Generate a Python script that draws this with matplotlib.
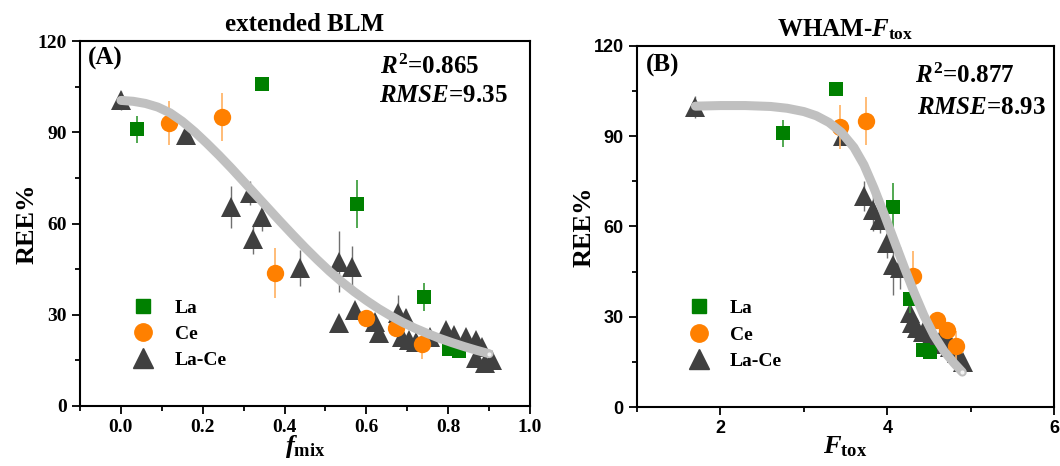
import matplotlib
matplotlib.use("Agg")
import matplotlib.pyplot as plt
from matplotlib.lines import Line2D

plt.rcParams["font.family"] = "Liberation Serif"
plt.rcParams["font.weight"] = "bold"
plt.rcParams["axes.titleweight"] = "bold"
plt.rcParams["axes.labelweight"] = "bold"
plt.rcParams["mathtext.fontset"] = "custom"
plt.rcParams["mathtext.rm"] = "Liberation Serif:bold"
plt.rcParams["mathtext.bf"] = "Liberation Serif:bold"
plt.rcParams["mathtext.it"] = "Liberation Serif:bold:italic"

# ---- panel A: extended BLM ----
la_f = [0.04, 0.346, 0.578, 0.741, 0.802, 0.827]
la_ree = [91, 105.8, 66.4, 35.8, 18.8, 18.2]
la_err = [4.5, 0.8, 8, 4.5, 1.5, 1.5]

ce_f = [0.117, 0.246, 0.376, 0.60, 0.673, 0.737]
ce_ree = [93, 95, 43.7, 28.9, 25.6, 20.3]
ce_err = [7.3, 8, 8.2, 1.5, 1.5, 5]

lace_f = [0.0, 0.16, 0.27, 0.315, 0.322, 0.344, 0.437, 0.534, 0.566, 0.534,
          0.571, 0.62, 0.632, 0.678, 0.697, 0.688, 0.705, 0.722, 0.755, 0.795,
          0.815, 0.843, 0.867, 0.883, 0.867, 0.907, 0.89]
lace_ree = [100.5, 89, 65.4, 70, 55, 62, 45.3, 47.4, 45.7, 27.3,
            31.6, 27.6, 24, 30.5, 28.9, 22.7, 21.7, 21, 22.7, 25,
            23.3, 22.7, 21.7, 19.4, 15.8, 15.1, 14.1]
lace_err = [3, 3, 7, 4, 5, 4.5, 6, 10, 7, 1.5,
            1.5, 1.5, 1.5, 6, 3, 2, 2, 2, 2, 2,
            1.5, 2.5, 2, 1.5, 1.5, 1.5, 1.5]

fit_f = [0, 0.03, 0.06, 0.09, 0.12, 0.15, 0.18, 0.21, 0.24, 0.27, 0.30,
         0.33, 0.36, 0.39, 0.42, 0.45, 0.48, 0.51, 0.54, 0.57, 0.60,
         0.63, 0.66, 0.69, 0.72, 0.75, 0.78, 0.81, 0.84, 0.87, 0.9]
fit_f_ree = [100.5, 100.2, 99.5, 98.3, 96.4, 93.6, 90.2, 86.4, 82.4, 78.2, 73.8,
             69.4, 65.0, 60.6, 56.3, 52.1, 48.1, 44.3, 40.8, 37.6, 34.7,
             32.0, 29.6, 27.4, 25.5, 23.8, 22.2, 20.8, 19.5, 18.3, 17.2]

# ---- panel B: WHAM-Ftox ----
la_F = [2.75, 3.39, 4.07, 4.27, 4.43, 4.51]
ce_F = [3.43, 3.75, 4.31, 4.60, 4.72, 4.83]

lace_F = [1.7, 3.47, 3.72, 3.83, 3.91, 4.0, 4.07, 4.15, 4.27, 4.36,
          4.43, 4.51, 4.63, 4.75, 4.84, 4.91, 4.3, 4.55, 4.7]
lace_F_ree = [99.7, 90, 70, 65.5, 62, 54.5, 47.2, 46.2, 31.2, 26.3,
              25, 23, 22.3, 20, 17.9, 15, 28, 21, 24]
lace_F_err = [3.6, 3, 5, 7, 4, 5, 10, 7, 3, 3,
              2, 2, 2, 2, 2, 1.5, 2, 2, 2]

fit_F = [1.7, 2.0, 2.3, 2.6, 2.8, 3.0, 3.15, 3.3, 3.45, 3.6, 3.72,
         3.84, 3.96, 4.08, 4.2, 4.32, 4.44, 4.56, 4.68, 4.8, 4.9]
fit_F_ree = [100, 100.2, 100.2, 99.9, 99.3, 98.2, 96.8, 94.6, 91.3, 86.3, 80.5,
             72.8, 64.3, 55.5, 46.7, 38.2, 30.4, 23.8, 18.6, 14.6, 11.6]

green = "#008000"
orange = "#ff8000"
dark = "#404040"

fig = plt.figure(figsize=(10.6, 4.66), dpi=100)
axA = fig.add_axes([0.0755, 0.1288, 0.4245, 0.783])
axB = fig.add_axes([0.601, 0.1266, 0.3934, 0.7747])


def draw_panel(ax, xla, xce, xlace, ylace, elace, xfit, yfit):
    ax.errorbar(xlace, ylace, yerr=elace, fmt="^", color=dark, ms=14, mew=0,
                ecolor="#707070", elinewidth=1, capsize=5, capthick=1, zorder=2)
    ax.errorbar(xce, ce_ree, yerr=ce_err, fmt="o", color=orange, ms=12.5, mew=0,
                ecolor="#ffb060", elinewidth=1.2, capsize=5, capthick=1.2, zorder=3)
    ax.errorbar(xla, la_ree, yerr=la_err, fmt="s", color=green, ms=10.5, mew=0,
                ecolor="#339933", elinewidth=1.2, capsize=5, capthick=1.2, zorder=4)
    ax.plot(xfit, yfit, color="#c0c0c0", lw=6.5, solid_capstyle="round",
            solid_joinstyle="round", zorder=5)
    ax.plot(xfit[-1:], yfit[-1:], "o", color="#f2f2f2", ms=3, mew=0, zorder=6)
    ax.set_ylim(0, 120)
    ax.set_yticks([0, 30, 60, 90, 120])
    ax.set_yticks([15, 45, 75, 105], minor=True)
    ax.tick_params(which="major", direction="out", length=6, width=1.3)
    ax.tick_params(which="minor", direction="out", length=3.5, width=1.3)
    for s in ax.spines.values():
        s.set_linewidth(1.5)
    ax.set_ylabel("REE%", fontsize=19, labelpad=-1)
    handles = [Line2D([], [], marker="s", color=green, ls="", ms=10.5),
               Line2D([], [], marker="o", color=orange, ls="", ms=12.5),
               Line2D([], [], marker="^", color=dark, ls="", ms=14)]
    return handles


def style_ticks(ax, family, size):
    for lab in ax.get_xticklabels() + ax.get_yticklabels():
        lab.set_fontfamily(family)
        lab.set_fontsize(size)
        lab.set_fontweight("bold")


hA = draw_panel(axA, la_f, ce_f, lace_f, lace_ree, lace_err, fit_f, fit_f_ree)
axA.set_xlim(-0.1, 1.0)
axA.set_xticks([0.0, 0.2, 0.4, 0.6, 0.8, 1.0])
axA.set_xticks([-0.1, 0.1, 0.3, 0.5, 0.7, 0.9], minor=True)
axA.set_xticklabels(["0.0", "0.2", "0.4", "0.6", "0.8", "1.0"])
style_ticks(axA, "Liberation Serif", 14)
axA.set_xlabel(r"$f_{\rm mix}$", fontsize=19, labelpad=-2)
axA.set_title("extended BLM", fontsize=18, pad=7)
axA.text(0.018, 0.953, "(A)", transform=axA.transAxes, fontsize=18, va="center")
axA.text(0.666, 0.93, r"$R^{2}$=0.865", transform=axA.transAxes, fontsize=18, va="center")
axA.text(0.664, 0.852, r"$RMSE$=9.35", transform=axA.transAxes, fontsize=18, va="center")
axA.legend(hA, ["La", "Ce", "La-Ce"], loc="center left", bbox_to_anchor=(0.115, 0.197),
           frameon=False, fontsize=14, borderpad=0, borderaxespad=0,
           handlelength=1.2, handletextpad=1.0, labelspacing=0.45)

hB = draw_panel(axB, la_F, ce_F, lace_F, lace_F_ree, lace_F_err, fit_F, fit_F_ree)
axB.set_xlim(1, 6)
axB.set_xticks([2, 4, 6])
axB.set_xticks([1, 3, 5], minor=True)
style_ticks(axB, "Liberation Sans", 13)
axB.set_xlabel(r"$F_{\rm tox}$", fontsize=19, labelpad=-2)
axB.set_title(r"WHAM-$F_{\rm tox}$", fontsize=18, pad=7)
axB.text(0.02, 0.945, "(B)", transform=axB.transAxes, fontsize=18, va="center")
axB.text(0.667, 0.918, r"$R^{2}$=0.877", transform=axB.transAxes, fontsize=18, va="center")
axB.text(0.672, 0.83, r"$RMSE$=8.93", transform=axB.transAxes, fontsize=18, va="center")
axB.legend(hB, ["La", "Ce", "La-Ce"], loc="center left", bbox_to_anchor=(0.12, 0.2),
           frameon=False, fontsize=14, borderpad=0, borderaxespad=0,
           handlelength=1.2, handletextpad=1.0, labelspacing=0.45)

fig.savefig("out.png", dpi=100)
